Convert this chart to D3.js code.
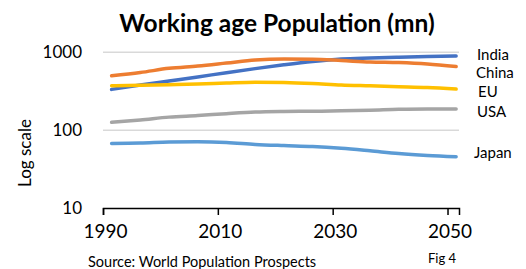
<!DOCTYPE html>
<html>
<head>
<meta charset="utf-8">
<script src="https://cdn.jsdelivr.net/npm/d3@7"></script>
<style>
  html, body { margin: 0; padding: 0; background: #fff; }
  svg { display: block; }
  text { font-family: Lato, "Open Sans", sans-serif; fill: #000; }
</style>
</head>
<body>
<svg id="chart" width="526" height="269"></svg>
<script>
// ---- data ----
const years  = [1990, 1995, 2000, 2005, 2010, 2015, 2020, 2025, 2030, 2035, 2040, 2045, 2050];
const india  = [334, 379, 428, 483, 547, 617, 690, 762, 820, 845, 865, 883, 896];
const china  = [500, 550, 622, 667, 728, 796, 820, 815, 785, 750, 737, 707, 656];
const eu     = [372, 378, 384, 391, 403, 413, 409, 397, 380, 371, 362, 353, 337];
const usa    = [126, 135, 147, 154, 163, 171, 174, 175, 177, 180, 185, 187, 187];
const japan  = [67.6, 68.2, 70.3, 70.7, 69.3, 65.6, 63.4, 61.6, 58.4, 54.2, 50.0, 47.3, 45.5];
const seriesNames = ["India", "China", "EU", "USA", "Japan"];
const xTicks = [1990, 2010, 2030, 2050];
const yTicks = [10, 100, 1000];
const title = "Working age Population (mn)";
const yTitle = "Log scale";
const source = "Source: World Population Prospects";
const fig = "Fig 4";

const colors = { India: "#4472C4", China: "#ED7D31", EU: "#FFC000", USA: "#A5A5A5", Japan: "#5B9BD5" };
const values = { India: india, China: china, EU: eu, USA: usa, Japan: japan };
// label placement (pixels), de-overlapped like the original
const labelPos = { India: [477, 55], China: [476, 73], EU: [478, 92], USA: [477, 112], Japan: [474, 153] };

const svg = d3.select("#chart");
const mLeft = 103, mRight = 459, mTop = 52.3, mBottom = 208;

const x = d3.scaleLinear().domain([1990, 2052]).range([mLeft, mRight]);
const y = d3.scaleLog().domain([10, 1000]).range([mBottom, mTop]);
const dataOffset = 1.5; // category-centre offset in years

// gridlines
svg.append("g").selectAll("line").data([100, 1000]).join("line")
  .attr("x1", mLeft).attr("x2", mRight)
  .attr("y1", d => y(d)).attr("y2", d => y(d))
  .attr("stroke", "#D9D9D9").attr("stroke-width", 1.5);

// x axis
const xAxis = d3.axisBottom(x).tickValues(xTicks).tickFormat(d3.format("d")).tickSizeOuter(0).tickSize(7);
const gx = svg.append("g").attr("transform", `translate(0,${mBottom})`).call(xAxis);
gx.select(".domain").attr("stroke", "#000").attr("stroke-width", 1.5);
gx.selectAll(".tick line").attr("stroke", "#000").attr("stroke-width", 1.5);
gx.selectAll(".tick text").attr("font-size", 19).attr("font-family", "Lato, sans-serif")
  .attr("y", 17).attr("dx", 2).attr("fill", "#000");

// y labels
const yAxis = d3.axisLeft(y).tickValues(yTicks).tickFormat(d3.format("d")).tickSize(0).tickPadding(21);
const gy = svg.append("g").attr("transform", `translate(${mLeft},0)`).call(yAxis);
gy.select(".domain").remove();
gy.selectAll(".tick text").attr("font-size", 17).attr("font-family", "Lato, sans-serif").attr("fill", "#000");

// lines
const line = d3.line()
  .x((d, i) => x(years[i] + dataOffset))
  .y(d => y(d))
  .curve(d3.curveMonotoneX);

seriesNames.forEach(name => {
  svg.append("path")
    .datum(values[name])
    .attr("fill", "none")
    .attr("stroke", colors[name])
    .attr("stroke-width", 3.5)
    .attr("stroke-linecap", "round")
    .attr("d", line);
});

// end labels
seriesNames.forEach(name => {
  svg.append("text")
    .attr("x", labelPos[name][0])
    .attr("y", labelPos[name][1])
    .attr("dy", "0.35em")
    .attr("font-size", 15)
    .text(name);
});

// title
svg.append("text").attr("x", 277).attr("y", 32).attr("text-anchor", "middle")
  .attr("font-size", 24.5).attr("font-weight", "bold").text(title);

// y title
svg.append("text").attr("transform", "translate(31,153) rotate(-90)")
  .attr("text-anchor", "middle").attr("font-size", 17).text(yTitle);

// source
svg.append("text").attr("x", 88).attr("y", 267).attr("font-size", 14.5).text(source);
svg.append("text").attr("x", 428).attr("y", 263).attr("font-size", 13).text(fig);
</script>
</body>
</html>
